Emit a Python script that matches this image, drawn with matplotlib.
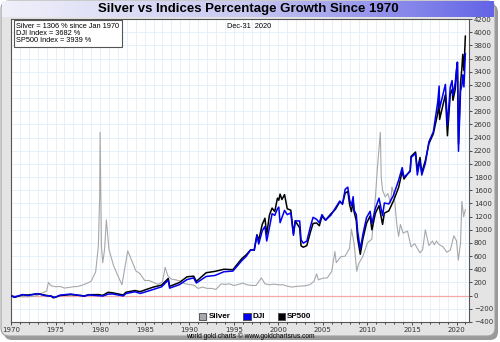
import numpy as np
import matplotlib.pyplot as plt
from matplotlib.patches import FancyBboxPatch, Rectangle
from matplotlib.colors import LinearSegmentedColormap
#
# silver, % change since Jan 1970
silver_x = [1970.0, 1970.5, 1971.0, 1971.5, 1972.0, 1972.5, 1973.0, 1973.5, 1974.0, 1974.2,
	1974.5, 1975.0, 1975.5, 1976.0, 1976.5, 1977.0, 1977.5, 1978.0, 1978.5, 1979.0,
	1979.5, 1979.8, 1979.95, 1980.0, 1980.15, 1980.3, 1980.5, 1980.7, 1981.0, 1981.5,
	1982.0, 1982.45, 1983.1, 1983.5, 1984.0, 1984.5, 1985.0, 1985.5, 1986.0, 1986.5,
	1987.0, 1987.3, 1987.6, 1988.0, 1988.5, 1989.0, 1989.5, 1990.0, 1990.5, 1991.0,
	1991.5, 1992.0, 1992.5, 1993.0, 1993.6, 1994.0, 1994.5, 1995.0, 1995.5, 1996.0,
	1996.5, 1997.0, 1997.5, 1998.1, 1998.5, 1999.0, 1999.5, 2000.0, 2000.5, 2001.0,
	2001.5, 2002.0, 2002.5, 2003.0, 2003.5, 2004.0, 2004.3, 2004.5, 2005.0, 2005.5,
	2006.0, 2006.35, 2006.5, 2007.0, 2007.5, 2008.0, 2008.2, 2008.5, 2008.8, 2009.0,
	2009.5, 2010.0, 2010.5, 2010.9, 2011.1, 2011.45, 2011.55, 2011.7, 2012.0, 2012.3,
	2012.6, 2012.75, 2013.0, 2013.3, 2013.5, 2013.7, 2014.0, 2014.5, 2014.9, 2015.3,
	2015.9, 2016.2, 2016.5, 2016.9, 2017.3, 2017.5, 2017.75, 2018.0, 2018.5, 2018.9,
	2019.3, 2019.7, 2020.0, 2020.2, 2020.45, 2020.6, 2020.8, 2020.99]
silver_pct = [0, -5, -16, -18, -16, -10, 5, 40, 70, 200,
	150, 135, 140, 115, 125, 135, 140, 160, 185, 220,
	360, 750, 1500, 2480, 750, 500, 700, 1150, 700, 460,
	300, 165, 680, 550, 380, 330, 230, 230, 200, 170,
	210, 430, 300, 250, 240, 220, 180, 170, 160, 110,
	130, 110, 110, 95, 180, 170, 180, 155, 170, 190,
	165, 155, 155, 270, 180, 165, 175, 165, 165, 145,
	130, 140, 145, 150, 165, 215, 330, 240, 265, 270,
	370, 670, 500, 590, 600, 720, 1010, 800, 370, 480,
	600, 800, 860, 1500, 1900, 2480, 1800, 1600, 1500, 1550,
	1400, 1650, 1530, 1080, 900, 1080, 950, 980, 740, 790,
	650, 700, 1000, 760, 830, 770, 830, 780, 740, 660,
	690, 910, 830, 540, 800, 1430, 1200, 1306]
#
# Dow Jones and S&P500, % change since Jan 1970
index_x = [1970.0, 1970.4, 1971.3, 1971.9, 1972.9, 1973.0, 1973.9, 1974.5, 1974.75, 1974.9,
	1975.5, 1976.7, 1977.9, 1978.2, 1978.7, 1979.8, 1980.3, 1980.9, 1981.4, 1982.6,
	1982.9, 1983.9, 1984.5, 1984.9, 1985.9, 1986.9, 1987.65, 1987.8, 1988.9, 1989.75,
	1990.5, 1990.8, 1991.9, 1992.9, 1993.9, 1994.9, 1995.9, 1996.4, 1996.9, 1997.3,
	1997.6, 1997.8, 1998.2, 1998.5, 1998.7, 1999.0, 1999.3, 1999.6, 1999.9, 2000.05,
	2000.2, 2000.4, 2000.7, 2001.0, 2001.4, 2001.7, 2001.9, 2002.4, 2002.55, 2002.8,
	2003.2, 2003.6, 2003.9, 2004.3, 2004.6, 2004.9, 2005.3, 2005.9, 2006.4, 2006.9,
	2007.2, 2007.5, 2007.8, 2008.0, 2008.2, 2008.4, 2008.5, 2008.75, 2008.9, 2009.2,
	2009.5, 2009.9, 2010.3, 2010.5, 2010.9, 2011.3, 2011.7, 2011.9, 2012.4, 2012.9,
	2013.5, 2013.9, 2014.1, 2014.8, 2014.9, 2015.4, 2015.6, 2015.9, 2016.1, 2016.5,
	2016.9, 2017.4, 2017.9, 2018.05, 2018.1, 2018.75, 2018.98, 2019.3, 2019.5, 2019.6,
	2019.85, 2019.98, 2020.1, 2020.22, 2020.45, 2020.6, 2020.7, 2020.83, 2020.99]
dji_pct = [-1, -22, 17, 2, 28, 30, -1, -6, -20, -29,
	7, 25, -1, -9, 11, 0, -6, 23, 26, -4,
	32, 59, 34, 49, 91, 134, 236, 114, 167, 244,
	270, 192, 291, 307, 363, 373, 531, 597, 695, 689,
	914, 783, 985, 1051, 830, 1032, 1244, 1219, 1318, 1345,
	1108, 1182, 1294, 1230, 1256, 916, 1136, 1133, 850, 798,
	828, 1047, 1189, 1158, 1108, 1230, 1145, 1222, 1330, 1437,
	1386, 1614, 1647, 1454, 1367, 1503, 1300, 1232, 982, 707,
	936, 1186, 1281, 1094, 1328, 1480, 1214, 1407, 1392, 1516,
	1750, 1944, 1799, 1885, 2098, 2156, 1832, 2049, 1831, 2008,
	2337, 2489, 2948, 3182, 2842, 3208, 2587, 3168, 3266, 3044,
	3229, 3419, 3544, 2192, 3106, 3192, 3353, 3168, 3674]
sp500_pct = [-1, -25, 12, 10, 27, 29, 5, -8, -33, -26,
	2, 15, 2, -6, 14, 16, 5, 51, 43, 10,
	52, 77, 61, 80, 127, 160, 261, 141, 199, 286,
	296, 217, 348, 369, 401, 394, 562, 620, 697, 696,
	926, 842, 1083, 1175, 929, 1222, 1330, 1276, 1480, 1449,
	1542, 1459, 1534, 1319, 1298, 939, 1134, 1029, 757, 735,
	760, 965, 1096, 1104, 1061, 1203, 1147, 1242, 1309, 1425,
	1395, 1556, 1583, 1384, 1276, 1427, 1276, 1137, 871, 628,
	868, 1099, 1209, 999, 1253, 1366, 1082, 1253, 1287, 1433,
	1642, 1887, 1771, 1900, 2114, 2180, 1908, 2098, 1867, 2051,
	2308, 2459, 2775, 2989, 2675, 3052, 2428, 3067, 3126, 2965,
	3126, 3374, 3541, 2305, 3233, 3448, 3663, 3416, 3939]
#
info_lines = ['Silver = 1306 % since Jan 1970', 'DJI Index = 3682 %', 'SP500 Index = 3939 %']
#
def main():
	fig = plt.figure(figsize=(5, 3.42), dpi=100)
	fig.patch.set_facecolor('white')

	# outer panel
	bg = fig.add_axes([0, 0, 1, 1])
	bg.set_xlim(0, 500)
	bg.set_ylim(342, 0)
	bg.axis('off')
	bg.add_patch(FancyBboxPatch((4, 4), 494, 336, boxstyle='round,pad=0,rounding_size=8',
		facecolor='#9a9a9a', edgecolor='none'))
	bg.add_patch(FancyBboxPatch((1, 1), 494, 335, boxstyle='round,pad=0,rounding_size=8',
		facecolor='#e4e4e4', edgecolor='#a0a0a0', lw=0.8))

	# title bar gradient
	tb = fig.add_axes([2 / 500, 1 - 17 / 342, 492 / 500, 16 / 342])
	cmap = LinearSegmentedColormap.from_list('tb', ['#f0f0fa', '#c8c8f2', '#6464e6'])
	tb.imshow(np.linspace(0, 1, 256).reshape(1, -1), aspect='auto', cmap=cmap, extent=[0, 1, 0, 1])
	tb.axis('off')
	tb.text(0.5, 0.5, 'Silver vs Indices Percentage Growth Since 1970', ha='center', va='center',
		fontsize=9.5, fontweight='bold', family='Liberation Sans', transform=tb.transAxes)

	ax = fig.add_axes([11 / 500, 1 - 322 / 342, 458 / 500, 303 / 342])
	ax.set_facecolor('white')
	ax.set_xlim(1970, 2021.4)
	ax.set_ylim(-400, 4200)

	ax.set_xticks(np.arange(1970, 2021, 5))
	ax.set_xticks(np.arange(1970, 2022, 1), minor=True)
	ax.set_yticks(np.arange(-400, 4201, 200))
	ax.yaxis.tick_right()
	ax.tick_params(axis='both', labelsize=5, length=2.5, width=0.6, pad=1, colors='#333333')
	ax.tick_params(axis='x', which='minor', length=1.5, width=0.5)
	ax.grid(True, which='both', color='#e2eefa', lw=0.6)
	ax.set_axisbelow(True)
	for s in ax.spines.values():
		s.set_color('#555555')
		s.set_linewidth(0.8)

	ax.axhline(0, color='#f5a8a8', lw=0.9, zorder=1)
	ax.plot(silver_x, silver_pct, color='#a8a8a8', lw=0.8, zorder=2)
	ax.plot(index_x, sp500_pct, color='black', lw=1.1, zorder=3)
	ax.plot(index_x, dji_pct, color='#0000ee', lw=1.1, zorder=4)

	# info box
	ax.text(0.012, 0.988, '\n'.join(info_lines), transform=ax.transAxes, ha='left', va='top',
		fontsize=5.3, linespacing=1.05, family='Liberation Sans',
		bbox=dict(boxstyle='square,pad=0.35', facecolor='white', edgecolor='#555555', lw=0.8))
	ax.text(0.52, 0.988, 'Dec-31  2020', transform=ax.transAxes, ha='center', va='top',
		fontsize=5.3, family='Liberation Sans')

	# legend
	for lx, lab, col in [(0.410, 'Silver', '#a8a8a8'), (0.507, 'DJI', '#0000ee'), (0.582, 'SP500', 'black')]:
		ax.add_patch(Rectangle((lx, 0.007), 0.016, 0.024, transform=ax.transAxes,
			facecolor=col, edgecolor='#444444', lw=0.6, zorder=5))
		ax.text(lx + 0.021, 0.019, lab, transform=ax.transAxes, ha='left', va='center',
			fontsize=5.8, fontweight='bold', family='Liberation Sans', zorder=5)

	fig.text(0.5, 1 - 336.5 / 342, 'world gold charts \u00a9 www.goldchartsrus.com', ha='center', va='center',
		fontsize=4.8, family='Liberation Sans')

	fig.savefig('out.png', dpi=100)
#
if __name__ == '__main__':
	main()
